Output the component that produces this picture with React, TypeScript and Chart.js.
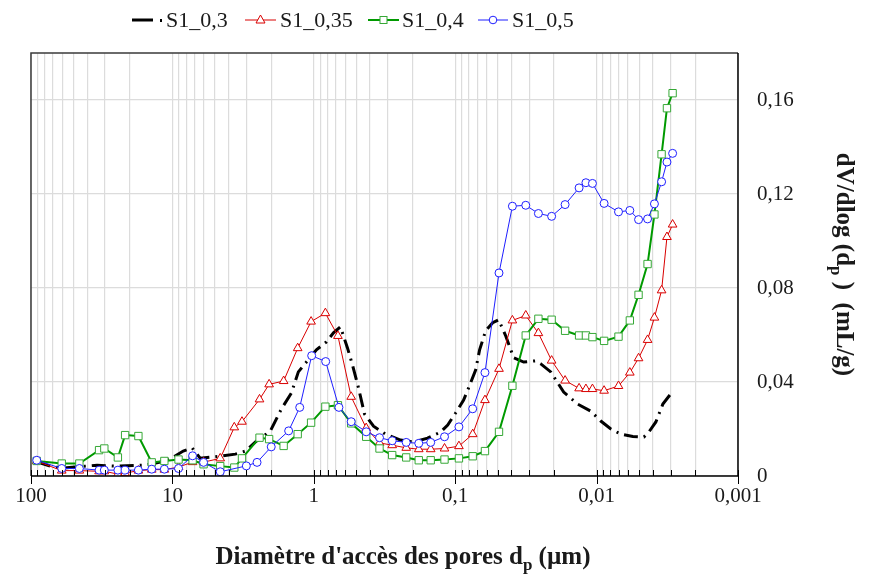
import React, { useEffect, useRef } from "react";
import { Chart, registerables } from "chart.js";
Chart.register(...registerables);

const seriesNames = ["S1_0,3", "S1_0,35", "S1_0,4", "S1_0,5"];
const xTickValues = [100, 10, 1, 0.1, 0.01, 0.001];
const xTickLabels = ["100", "10", "1", "0,1", "0,01", "0,001"];
const yTickValues = [0, 0.04, 0.08, 0.12, 0.16];
const yTickLabels = ["0", "0,04", "0,08", "0,12", "0,16"];
const xTitleMain = "Diamètre d'accès des pores d";
const xTitleSub = "p";
const xTitleEnd = " (µm)";
const yTitleMain = "dV/dlog (d";
const yTitleSub = "p";
const yTitleEnd = " )  (mL/g)";

// S1_0,3 (dash-dot, no markers)
const dBlack = [91.1, 73.3, 60.3, 45.0, 34.1, 25.4, 15.6, 12.2, 9.87, 8.38, 7.24, 6.36, 4.59, 3.59, 3.05, 2.55, 2.03, 1.696, 1.441, 1.286, 1.128, 0.958, 0.814, 0.726, 0.648, 0.578, 0.533, 0.483, 0.438, 0.378, 0.311, 0.2435, 0.197, 0.157, 0.127, 0.113, 0.0994, 0.0872, 0.0804, 0.0717, 0.0672, 0.0609, 0.0543, 0.0493, 0.0439, 0.0386, 0.0328, 0.027, 0.0248, 0.0211, 0.0171, 0.0136, 0.011, 0.00934, 0.00793, 0.00674, 0.00554, 0.00463, 0.00427, 0.00381, 0.0034, 0.00303];
const vBlack = [0.0060, 0.0042, 0.0033, 0.0040, 0.0046, 0.0042, 0.0046, 0.0059, 0.0080, 0.0106, 0.0119, 0.0076, 0.0084, 0.0093, 0.0106, 0.0148, 0.0191, 0.0285, 0.0353, 0.0443, 0.0485, 0.0537, 0.0571, 0.0609, 0.0635, 0.0545, 0.0473, 0.0375, 0.0264, 0.0212, 0.0178, 0.0153, 0.0144, 0.0161, 0.0187, 0.0217, 0.0268, 0.0323, 0.0375, 0.0451, 0.0537, 0.0618, 0.0652, 0.0665, 0.0596, 0.0503, 0.0485, 0.049, 0.0477, 0.0443, 0.0357, 0.0306, 0.0276, 0.0234, 0.020, 0.0178, 0.0168, 0.0166, 0.0187, 0.0230, 0.0306, 0.0345];

// S1_0,35 and S1_0,4 share pore diameters
const dRedGreen = [91.1, 60.6, 45.5, 33.0, 30.3, 24.3, 21.6, 17.4, 14.0, 11.4, 9.05, 7.2, 6.02, 4.59, 3.65, 3.22, 2.42, 2.07, 1.634, 1.30, 1.045, 0.828, 0.675, 0.544, 0.426, 0.343, 0.279, 0.222, 0.181, 0.149, 0.119, 0.0941, 0.0752, 0.0616, 0.049, 0.0394, 0.0317, 0.0258, 0.0208, 0.0167, 0.0133, 0.0119, 0.0107, 0.00885, 0.007, 0.00582, 0.00505, 0.00436, 0.0039, 0.00347, 0.00318, 0.0029];
const vRed = [0.0063, 0.0023, 0.0023, 0.0020, 0.0020, 0.0008, 0.0012, 0.0023, 0.0027, 0.0027, 0.0038, 0.0059, 0.0059, 0.0075, 0.0207, 0.0231, 0.0326, 0.039, 0.0404, 0.0544, 0.0657, 0.0693, 0.0596, 0.0337, 0.0204, 0.0141, 0.0131, 0.0120, 0.0114, 0.0114, 0.0117, 0.0127, 0.0178, 0.0323, 0.0456, 0.0662, 0.0683, 0.0608, 0.0491, 0.0406, 0.0373, 0.0370, 0.0370, 0.0363, 0.0383, 0.044, 0.0501, 0.0579, 0.0674, 0.079, 0.1017, 0.107];
const vGreen = [0.0064, 0.0053, 0.0053, 0.0110, 0.0117, 0.0079, 0.0174, 0.0170, 0.0058, 0.0064, 0.0070, 0.0067, 0.0050, 0.0042, 0.0036, 0.0075, 0.0163, 0.0157, 0.0128, 0.0178, 0.0227, 0.0295, 0.0301, 0.0224, 0.0167, 0.0117, 0.0089, 0.0079, 0.0067, 0.0067, 0.0070, 0.0075, 0.0084, 0.0106, 0.0188, 0.0384, 0.0598, 0.0669, 0.0665, 0.0618, 0.0598, 0.0598, 0.0591, 0.0575, 0.0593, 0.0662, 0.0771, 0.0902, 0.1113, 0.1369, 0.1565, 0.1629];

// S1_0,5
const dBlue = [91.1, 60.6, 45.5, 33.0, 30.3, 24.3, 21.6, 17.4, 14.0, 11.4, 9.05, 7.2, 6.02, 4.59, 3.0, 2.52, 2.0, 1.506, 1.258, 1.035, 0.824, 0.664, 0.544, 0.426, 0.343, 0.279, 0.222, 0.181, 0.149, 0.119, 0.0941, 0.0752, 0.0616, 0.049, 0.0394, 0.0317, 0.0258, 0.0208, 0.0167, 0.0133, 0.0119, 0.0107, 0.00885, 0.007, 0.00582, 0.00505, 0.00436, 0.0039, 0.00347, 0.00318, 0.0029];
const vBlue = [0.0067, 0.0032, 0.0032, 0.0025, 0.0025, 0.0025, 0.0025, 0.0025, 0.0029, 0.0029, 0.0032, 0.0086, 0.0058, 0.0018, 0.0043, 0.0058, 0.0124, 0.0192, 0.0292, 0.0512, 0.0487, 0.0292, 0.0231, 0.0188, 0.0163, 0.0150, 0.0143, 0.0139, 0.0143, 0.0167, 0.0209, 0.0286, 0.044, 0.0864, 0.1148, 0.1152, 0.1117, 0.1105, 0.1155, 0.1226, 0.1248, 0.1245, 0.116, 0.1124, 0.113, 0.1091, 0.1094, 0.1158, 0.1252, 0.1336, 0.1373];

const SERIF = "'Liberation Serif', 'Times New Roman', serif";
const TEXT = "#1a1a1a";
const BLACK = "#000000";
const RED = "#d90000";
const GREEN_LINE = "#009a00";
const GREEN_MARK = "#36a836";
const BLUE = "#1f1fff";
const BLACK_DASH = [14, 6, 2, 6];

const pts = (d: number[], v: number[]) => d.map((x, i) => ({ x, y: v[i] }));

const isDecade = (v: number) => Math.abs(Math.log10(v) - Math.round(Math.log10(v))) < 1e-9;

const decorPlugin = {
  id: "decor",
  beforeDraw(chart: any) {
    const { ctx } = chart;
    ctx.save();
    ctx.fillStyle = "#ffffff";
    ctx.fillRect(0, 0, chart.width, chart.height);
    ctx.restore();
  },
  afterDraw(chart: any) {
    const { ctx, chartArea: a, scales } = chart;
    const xs = scales.x;
    ctx.save();
    // frame
    ctx.lineWidth = 1.5;
    ctx.strokeStyle = "#3a3a3a";
    ctx.beginPath();
    ctx.moveTo(a.left, a.bottom);
    ctx.lineTo(a.left, a.top);
    ctx.lineTo(a.right, a.top);
    ctx.stroke();
    ctx.strokeStyle = "#000";
    ctx.beginPath();
    ctx.moveTo(a.left, a.bottom);
    ctx.lineTo(a.right, a.bottom);
    ctx.lineTo(a.right, a.top);
    ctx.stroke();
    // x tick marks
    ctx.lineWidth = 1;
    ctx.strokeStyle = "#000";
    ctx.beginPath();
    xs.ticks.forEach((t: any) => {
      const px = Math.round(xs.getPixelForValue(t.value)) + 0.5;
      const major = isDecade(t.value);
      ctx.moveTo(px, a.bottom - 6);
      ctx.lineTo(px, a.bottom + (major ? 8 : 0));
    });
    ctx.stroke();

    // x title
    ctx.fillStyle = TEXT;
    ctx.textBaseline = "alphabetic";
    const fMain = `bold 25px ${SERIF}`;
    const fSub = `bold 17px ${SERIF}`;
    ctx.font = fMain;
    const w1 = ctx.measureText(xTitleMain).width;
    const w3 = ctx.measureText(xTitleEnd).width;
    ctx.font = fSub;
    const w2 = ctx.measureText(xTitleSub).width;
    const x0 = 403 - (w1 + w2 + w3) / 2;
    const by = 564;
    ctx.font = fMain;
    ctx.textAlign = "left";
    ctx.fillText(xTitleMain, x0, by);
    ctx.font = fSub;
    ctx.fillText(xTitleSub, x0 + w1, by + 6);
    ctx.font = fMain;
    ctx.fillText(xTitleEnd, x0 + w1 + w2, by);

    // y title (rotated clockwise)
    ctx.save();
    ctx.translate(845, (a.top + a.bottom) / 2);
    ctx.rotate(Math.PI / 2);
    ctx.font = fMain;
    const y1 = ctx.measureText(yTitleMain).width;
    const y3 = ctx.measureText(yTitleEnd).width;
    ctx.font = fSub;
    const y2 = ctx.measureText(yTitleSub).width;
    const sx = -(y1 + y2 + y3) / 2;
    ctx.font = fMain;
    ctx.fillText(yTitleMain, sx, 8);
    ctx.font = fSub;
    ctx.fillText(yTitleSub, sx + y1, 14);
    ctx.font = fMain;
    ctx.fillText(yTitleEnd, sx + y1 + y2, 8);
    ctx.restore();

    // legend
    const ly = 20;
    ctx.font = `22px ${SERIF}`;
    ctx.textBaseline = "middle";
    ctx.fillStyle = TEXT;
    // S1_0,3
    ctx.strokeStyle = BLACK;
    ctx.lineWidth = 3;
    ctx.beginPath();
    ctx.moveTo(132, ly);
    ctx.lineTo(153, ly);
    ctx.stroke();
    ctx.fillStyle = BLACK;
    ctx.fillRect(160, ly - 1, 2, 3);
    ctx.fillStyle = TEXT;
    ctx.fillText(seriesNames[0], 166, ly + 1);
    const item = (x1: number, x2: number, tx: number, color: string, lw: number, mark: (cx: number) => void, name: string) => {
      ctx.strokeStyle = color;
      ctx.lineWidth = lw;
      ctx.beginPath();
      ctx.moveTo(x1, ly);
      ctx.lineTo(x2, ly);
      ctx.stroke();
      mark((x1 + x2) / 2);
      ctx.fillStyle = TEXT;
      ctx.fillText(name, tx, ly + 1);
    };
    item(245, 276, 280, RED, 1, (cx) => {
      ctx.fillStyle = "#fff";
      ctx.strokeStyle = RED;
      ctx.lineWidth = 1;
      ctx.beginPath();
      ctx.moveTo(cx, ly - 5);
      ctx.lineTo(cx + 4.5, ly + 3);
      ctx.lineTo(cx - 4.5, ly + 3);
      ctx.closePath();
      ctx.fill();
      ctx.stroke();
    }, seriesNames[1]);
    item(368, 399, 402, GREEN_LINE, 2, (cx) => {
      ctx.fillStyle = "#fff";
      ctx.strokeStyle = GREEN_MARK;
      ctx.lineWidth = 1;
      ctx.fillRect(cx - 3.5, ly - 3.5, 7, 7);
      ctx.strokeRect(cx - 3.5, ly - 3.5, 7, 7);
    }, seriesNames[2]);
    item(478, 508, 512, BLUE, 1, (cx) => {
      ctx.fillStyle = "#fff";
      ctx.strokeStyle = BLUE;
      ctx.lineWidth = 1;
      ctx.beginPath();
      ctx.arc(cx, ly, 3.8, 0, Math.PI * 2);
      ctx.fill();
      ctx.stroke();
    }, seriesNames[3]);
    ctx.restore();
  },
};

export default function App() {
  const ref = useRef<HTMLCanvasElement>(null);
  useEffect(() => {
    if (!ref.current) return;
    const chart = new Chart(ref.current, {
      type: "line",
      data: {
        datasets: [
          {
            label: seriesNames[0],
            data: pts(dBlack, vBlack),
            borderColor: BLACK,
            borderWidth: 3,
            borderDash: BLACK_DASH,
            pointRadius: 0,
            tension: 0,
            fill: false,
            order: 3,
          },
          {
            label: seriesNames[1],
            data: pts(dRedGreen, vRed),
            borderColor: RED,
            borderWidth: 1,
            pointStyle: "triangle",
            pointRadius: 5,
            pointBorderWidth: 1,
            pointBorderColor: RED,
            pointBackgroundColor: "#ffffff",
            tension: 0,
            fill: false,
            order: 2,
          },
          {
            label: seriesNames[2],
            data: pts(dRedGreen, vGreen),
            borderColor: GREEN_LINE,
            borderWidth: 2,
            pointStyle: "rect",
            pointRadius: 5.2,
            pointBorderWidth: 1,
            pointBorderColor: GREEN_MARK,
            pointBackgroundColor: "#ffffff",
            tension: 0,
            fill: false,
            order: 1,
          },
          {
            label: seriesNames[3],
            data: pts(dBlue, vBlue),
            borderColor: BLUE,
            borderWidth: 1,
            pointStyle: "circle",
            pointRadius: 4,
            pointBorderWidth: 1,
            pointBorderColor: BLUE,
            pointBackgroundColor: "#ffffff",
            tension: 0,
            fill: false,
            order: 0,
          },
        ],
      },
      options: {
        animation: false,
        responsive: false,
        devicePixelRatio: 1,
        layout: { padding: { left: 31, top: 53, right: 0, bottom: 0 } },
        plugins: { legend: { display: false }, tooltip: { enabled: false } },
        scales: {
          x: {
            type: "logarithmic",
            reverse: true,
            min: 0.001,
            max: 100,
            afterBuildTicks: (s: any) => {
              const t: any[] = [];
              for (let e = -3; e <= 1; e++) {
                for (let m = 1; m <= 9; m++) t.push({ value: m * Math.pow(10, e) });
              }
              t.push({ value: 100 });
              s.ticks = t;
            },
            afterFit: (s: any) => {
              s.height = 108;
            },
            grid: { color: "#dcdcdc", lineWidth: 1.2, drawTicks: false },
            border: { display: false },
            ticks: {
              autoSkip: false,
              maxRotation: 0,
              padding: 8,
              color: TEXT,
              font: { family: SERIF, size: 21 },
              callback: (value: any) => {
                const i = xTickValues.findIndex((v) => Math.abs(Math.log10(v) - Math.log10(Number(value))) < 1e-6);
                return i >= 0 ? xTickLabels[i] : "";
              },
            },
          },
          y: {
            type: "linear",
            position: "right",
            min: 0,
            max: 0.18,
            afterBuildTicks: (s: any) => {
              s.ticks = yTickValues.map((v) => ({ value: v }));
            },
            afterFit: (s: any) => {
              s.width = 135;
            },
            grid: { color: "#dcdcdc", lineWidth: 1.2, drawTicks: false },
            border: { display: false },
            ticks: {
              padding: 19,
              color: TEXT,
              font: { family: SERIF, size: 21 },
              callback: (value: any) => {
                const i = yTickValues.findIndex((v) => Math.abs(v - Number(value)) < 1e-9);
                return i >= 0 ? yTickLabels[i] : "";
              },
            },
          },
        },
      },
      plugins: [decorPlugin],
    } as any);
    return () => chart.destroy();
  }, []);
  return (
    <div style={{ position: "fixed", left: 0, top: 0, width: 873, height: 584, background: "#fff" }}>
      <canvas ref={ref} width={873} height={584} style={{ display: "block", width: 873, height: 584 }} />
    </div>
  );
}
